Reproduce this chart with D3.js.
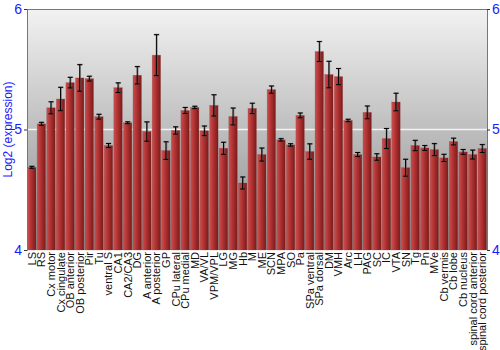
<!DOCTYPE html>
<html><head><meta charset="utf-8">
<script src="https://cdn.jsdelivr.net/npm/d3@7"></script>
<style>body{margin:0;background:#fff}svg{display:block}</style>
</head><body>
<script>
const categories = ["LS","RS","Cx motor","Cx cingulate","OB anterior","OB posterior","Pir","Tu","ventral S","CA1","CA2/CA3","DG","A anterior","A posterior","GP","CPu lateral","CPu medial","MD","VA/VL","VPM/VPL","LG","MG","Hb","M","ME","SCN","MPA","SO","Pa","SPa ventral","SPa dorsal","DM","VMH","Arc","LH","PAG","SC","IC","VTA","SN","Tg","Pn","MVe","Cb vermis","Cb lobe","Cb nucleus","spinal cord anterior","spinal cord posterior"];
const values = [4.686,5.047,5.18,5.253,5.389,5.428,5.422,5.106,4.867,5.347,5.056,5.45,4.983,5.617,4.825,4.992,5.158,5.183,4.989,5.2,4.844,5.108,4.556,5.175,4.792,5.331,4.914,4.872,5.117,4.817,5.647,5.456,5.439,5.075,4.792,5.142,4.772,4.925,5.228,4.683,4.867,4.847,4.833,4.764,4.9,4.814,4.792,4.842];
const errors = [0.008,0.012,0.05,0.097,0.044,0.11,0.02,0.02,0.017,0.04,0.008,0.072,0.08,0.17,0.073,0.03,0.025,0.01,0.04,0.088,0.05,0.07,0.05,0.043,0.054,0.03,0.01,0.01,0.02,0.064,0.083,0.11,0.067,0.01,0.017,0.053,0.027,0.083,0.073,0.07,0.043,0.02,0.05,0.03,0.028,0.02,0.037,0.033];
const yTicks = [4,5,6];
const yTitle = "Log2 (expression)";

const W=500,H=350, L=27, R=487, T=9, B=250;
const svg=d3.select("body").append("svg").attr("width",W).attr("height",H);
const defs=svg.append("defs");
const bg=defs.append("linearGradient").attr("id","bg").attr("x1",0).attr("y1",0).attr("x2",0).attr("y2",1);
bg.append("stop").attr("offset","0%").attr("stop-color","#f2f2f2");
bg.append("stop").attr("offset","100%").attr("stop-color","#8a8a8a");
const bar=defs.append("linearGradient").attr("id","bar").attr("x1",0).attr("y1",0).attr("x2",1).attr("y2",0);
bar.append("stop").attr("offset","0%").attr("stop-color","#c85050");
bar.append("stop").attr("offset","35%").attr("stop-color","#b83636");
bar.append("stop").attr("offset","100%").attr("stop-color","#7a1a1a");

const x=d3.scaleBand().domain(categories).range([L,R]).paddingInner(0.12).paddingOuter(0.06);
const y=d3.scaleLinear().domain([4,6]).range([B,T]);

svg.append("rect").attr("x",L).attr("y",T).attr("width",R-L).attr("height",B-T).attr("fill","url(#bg)");
svg.append("line").attr("x1",L).attr("x2",R).attr("y1",y(5)).attr("y2",y(5)).attr("stroke","#f4f4f4").attr("stroke-width",1.5);

const g=svg.append("g");
g.selectAll("rect.b").data(values).join("rect").attr("class","b")
 .attr("x",(d,i)=>x(categories[i])).attr("width",x.bandwidth())
 .attr("y",d=>y(d)).attr("height",d=>B-y(d)).attr("fill","url(#bar)")
 .attr("stroke","rgba(150,60,60,0.5)").attr("stroke-width",0.5);

const eb=svg.append("g");
values.forEach((v,i)=>{
  const cx=x(categories[i])+x.bandwidth()/2, e=errors[i], cw=2.5;
  const gg=eb.append("g");
  gg.append("path").attr("d",`M${cx+0.5},${y(v+e)}V${y(v-e)}M${cx-cw+0.5},${y(v+e)}H${cx+cw+0.5}M${cx-cw+0.5},${y(v-e)}H${cx+cw+0.5}`)
    .attr("stroke","rgba(90,90,90,0.6)").attr("stroke-width",1.6).attr("fill","none");
  gg.append("path").attr("d",`M${cx},${y(v+e)}V${y(v-e)}M${cx-cw},${y(v+e)}H${cx+cw}M${cx-cw},${y(v-e)}H${cx+cw}`)
    .attr("stroke","#000").attr("stroke-width",1).attr("fill","none");
});

svg.append("line").attr("x1",L).attr("x2",R).attr("y1",T+0.5).attr("y2",T+0.5).attr("stroke","#777");
const la=svg.append("g").attr("transform",`translate(${L},0)`).call(d3.axisLeft(y).tickValues(yTicks).tickFormat(d3.format("d")).tickSize(3).tickPadding(2));
const ra=svg.append("g").attr("transform",`translate(${R},0)`).call(d3.axisRight(y).tickValues(yTicks).tickFormat(d3.format("d")).tickSize(3).tickPadding(2));
[la,ra].forEach(a=>{
  a.select(".domain").attr("stroke","#777");
  a.selectAll(".tick line").attr("stroke","#333");
  a.selectAll(".tick text").attr("fill","#1a1aff").attr("font-family","Liberation Sans, Arial, sans-serif").attr("font-size",14);
});

svg.append("g").selectAll("text").data(categories).join("text")
 .attr("transform",d=>`translate(${x(d)+x.bandwidth()/2+4},${B+2}) rotate(-90)`)
 .attr("text-anchor","end").attr("font-family","Liberation Sans, Arial, sans-serif").attr("font-size",11).attr("fill","#111")
 .text(d=>d);

svg.append("text").attr("transform",`translate(12,${(T+B)/2}) rotate(-90)`).attr("text-anchor","middle")
 .attr("font-family","Liberation Sans, Arial, sans-serif").attr("font-size",12).attr("fill","#1a1aff").text(yTitle);
</script>
</body></html>
